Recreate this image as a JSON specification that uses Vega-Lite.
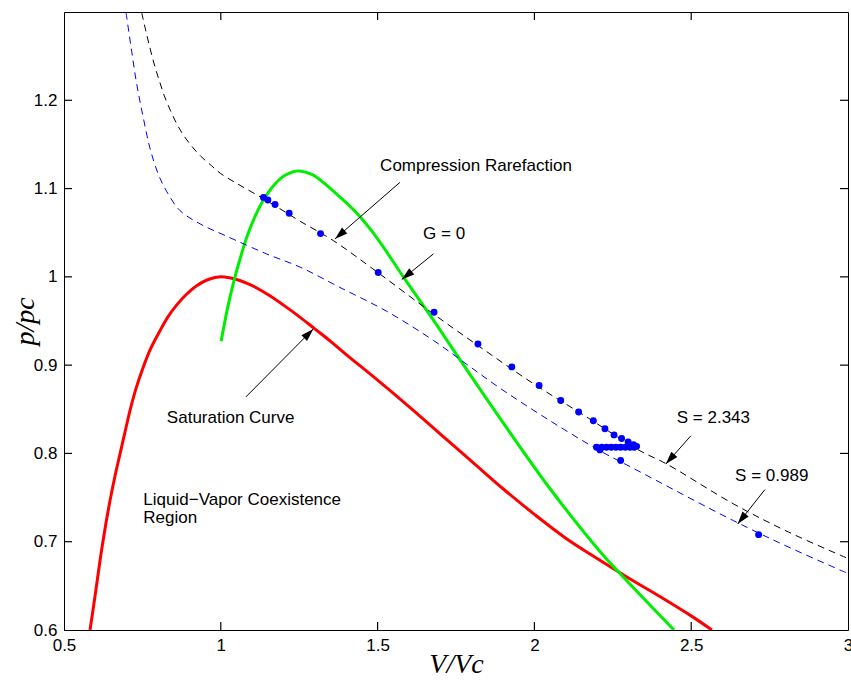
{
  "$schema": "https://vega.github.io/schema/vega-lite/v6.json",
  "width": 784,
  "height": 618,
  "autosize": {"type": "none"},
  "padding": {"left": 64, "top": 12, "right": 3, "bottom": 54},
  "background": "white",
  "config": {
    "view": {"stroke": "black", "strokeWidth": 1},
    "axis": {"grid": false, "domainColor": "black", "tickColor": "black", "labelColor": "black", "titleColor": "black"}
  },
  "datasets": {
    "sat": [
      {"V": 0.583, "p": 0.600}, {"V": 0.600, "p": 0.641}, {"V": 0.615, "p": 0.679}, {"V": 0.630, "p": 0.713},
      {"V": 0.647, "p": 0.747}, {"V": 0.663, "p": 0.775}, {"V": 0.679, "p": 0.800}, {"V": 0.695, "p": 0.825},
      {"V": 0.710, "p": 0.848}, {"V": 0.730, "p": 0.874}, {"V": 0.753, "p": 0.898}, {"V": 0.778, "p": 0.920},
      {"V": 0.806, "p": 0.939}, {"V": 0.832, "p": 0.955}, {"V": 0.859, "p": 0.968}, {"V": 0.890, "p": 0.980},
      {"V": 0.923, "p": 0.990}, {"V": 0.960, "p": 0.997}, {"V": 1.000, "p": 1.000}, {"V": 1.050, "p": 0.997},
      {"V": 1.100, "p": 0.990}, {"V": 1.150, "p": 0.980}, {"V": 1.200, "p": 0.968}, {"V": 1.250, "p": 0.955},
      {"V": 1.300, "p": 0.941}, {"V": 1.350, "p": 0.927}, {"V": 1.400, "p": 0.912}, {"V": 1.500, "p": 0.883},
      {"V": 1.600, "p": 0.853}, {"V": 1.700, "p": 0.822}, {"V": 1.800, "p": 0.791}, {"V": 1.900, "p": 0.760},
      {"V": 2.000, "p": 0.731}, {"V": 2.100, "p": 0.704}, {"V": 2.200, "p": 0.681}, {"V": 2.300, "p": 0.659},
      {"V": 2.400, "p": 0.638}, {"V": 2.500, "p": 0.616}, {"V": 2.566, "p": 0.600}
    ],
    "g0": [
      {"V": 1.001, "p": 0.927}, {"V": 1.020, "p": 0.962}, {"V": 1.040, "p": 0.993}, {"V": 1.061, "p": 1.020},
      {"V": 1.085, "p": 1.047}, {"V": 1.110, "p": 1.069}, {"V": 1.136, "p": 1.087}, {"V": 1.170, "p": 1.104},
      {"V": 1.205, "p": 1.115}, {"V": 1.245, "p": 1.120}, {"V": 1.290, "p": 1.116}, {"V": 1.330, "p": 1.106},
      {"V": 1.359, "p": 1.097}, {"V": 1.400, "p": 1.084}, {"V": 1.444, "p": 1.068}, {"V": 1.500, "p": 1.043},
      {"V": 1.582, "p": 1.000}, {"V": 1.678, "p": 0.951}, {"V": 1.763, "p": 0.906}, {"V": 1.890, "p": 0.840},
      {"V": 2.050, "p": 0.760}, {"V": 2.209, "p": 0.689}, {"V": 2.273, "p": 0.664}, {"V": 2.353, "p": 0.634},
      {"V": 2.445, "p": 0.600}
    ],
    "s2343": [
      {"V": 0.748, "p": 1.299}, {"V": 0.760, "p": 1.280}, {"V": 0.775, "p": 1.258}, {"V": 0.790, "p": 1.238},
      {"V": 0.805, "p": 1.221}, {"V": 0.820, "p": 1.205}, {"V": 0.840, "p": 1.188}, {"V": 0.860, "p": 1.173},
      {"V": 0.880, "p": 1.161}, {"V": 0.905, "p": 1.149}, {"V": 0.935, "p": 1.137}, {"V": 0.970, "p": 1.126},
      {"V": 1.000, "p": 1.117}, {"V": 1.050, "p": 1.106}, {"V": 1.114, "p": 1.093}, {"V": 1.180, "p": 1.079},
      {"V": 1.253, "p": 1.063}, {"V": 1.359, "p": 1.041}, {"V": 1.508, "p": 1.003}, {"V": 1.678, "p": 0.958},
      {"V": 1.837, "p": 0.918}, {"V": 1.997, "p": 0.879}, {"V": 2.150, "p": 0.845}, {"V": 2.337, "p": 0.803},
      {"V": 2.422, "p": 0.788}, {"V": 2.634, "p": 0.743}, {"V": 2.810, "p": 0.711}, {"V": 3.000, "p": 0.681}
    ],
    "s0989": [
      {"V": 0.698, "p": 1.299}, {"V": 0.716, "p": 1.255}, {"V": 0.732, "p": 1.218}, {"V": 0.753, "p": 1.180},
      {"V": 0.774, "p": 1.146}, {"V": 0.801, "p": 1.116}, {"V": 0.827, "p": 1.097}, {"V": 0.870, "p": 1.075},
      {"V": 0.934, "p": 1.060}, {"V": 1.019, "p": 1.046}, {"V": 1.146, "p": 1.026}, {"V": 1.253, "p": 1.011},
      {"V": 1.380, "p": 0.988}, {"V": 1.529, "p": 0.961}, {"V": 1.678, "p": 0.928}, {"V": 1.784, "p": 0.901},
      {"V": 1.890, "p": 0.874}, {"V": 2.050, "p": 0.837}, {"V": 2.209, "p": 0.803}, {"V": 2.316, "p": 0.783},
      {"V": 2.634, "p": 0.724}, {"V": 2.810, "p": 0.694}, {"V": 3.000, "p": 0.664}
    ],
    "pts": [
      {"V": 1.136, "p": 1.090}, {"V": 1.150, "p": 1.087}, {"V": 1.173, "p": 1.082}, {"V": 1.218, "p": 1.072},
      {"V": 1.318, "p": 1.049}, {"V": 1.502, "p": 1.005}, {"V": 1.680, "p": 0.960}, {"V": 1.820, "p": 0.924},
      {"V": 1.928, "p": 0.898}, {"V": 2.015, "p": 0.877}, {"V": 2.084, "p": 0.860}, {"V": 2.141, "p": 0.847},
      {"V": 2.188, "p": 0.837}, {"V": 2.225, "p": 0.828}, {"V": 2.254, "p": 0.821}, {"V": 2.278, "p": 0.817},
      {"V": 2.299, "p": 0.813}, {"V": 2.316, "p": 0.810}, {"V": 2.326, "p": 0.808}, {"V": 2.198, "p": 0.807},
      {"V": 2.209, "p": 0.804}, {"V": 2.215, "p": 0.807}, {"V": 2.230, "p": 0.807}, {"V": 2.245, "p": 0.807},
      {"V": 2.260, "p": 0.807}, {"V": 2.275, "p": 0.807}, {"V": 2.290, "p": 0.807}, {"V": 2.305, "p": 0.807},
      {"V": 2.318, "p": 0.807}, {"V": 2.275, "p": 0.792}, {"V": 2.715, "p": 0.708}
    ],
    "xticks": [
      {"V": 1, "p": 0.6}, {"V": 1.5, "p": 0.6}, {"V": 2, "p": 0.6}, {"V": 2.5, "p": 0.6},
      {"V": 1, "p": 1.3}, {"V": 1.5, "p": 1.3}, {"V": 2, "p": 1.3}, {"V": 2.5, "p": 1.3}
    ],
    "yticks": [
      {"V": 0.5, "p": 0.7}, {"V": 0.5, "p": 0.8}, {"V": 0.5, "p": 0.9}, {"V": 0.5, "p": 1.0}, {"V": 0.5, "p": 1.1}, {"V": 0.5, "p": 1.2},
      {"V": 3, "p": 0.7}, {"V": 3, "p": 0.8}, {"V": 3, "p": 0.9}, {"V": 3, "p": 1.0}, {"V": 3, "p": 1.1}, {"V": 3, "p": 1.2}
    ],
    "arrows": [
      {"x": 1.571, "y": 1.107, "x2": 1.364, "y2": 1.043},
      {"x": 1.678, "y": 1.026, "x2": 1.577, "y2": 0.997},
      {"x": 1.080, "y": 0.864, "x2": 1.295, "y2": 0.941},
      {"x": 2.499, "y": 0.820, "x2": 2.419, "y2": 0.788},
      {"x": 2.735, "y": 0.759, "x2": 2.648, "y2": 0.720}
    ],
    "labels": [
      {"x": 1.508, "y": 1.120, "t": "Compression Rarefaction"},
      {"x": 1.645, "y": 1.043, "t": "G = 0"},
      {"x": 0.828, "y": 0.835, "t": "Saturation Curve"},
      {"x": 0.753, "y": 0.742, "t": "Liquid−Vapor Coexistence"},
      {"x": 0.753, "y": 0.721, "t": "Region"},
      {"x": 2.454, "y": 0.834, "t": "S = 2.343"},
      {"x": 2.640, "y": 0.769, "t": "S = 0.989"}
    ]
  },
  "layer": [
    {
      "data": {"name": "sat"},
      "mark": {"type": "line", "color": "#ff0000", "strokeWidth": 3, "interpolate": "catmull-rom", "clip": true},
      "encoding": {
        "x": {"field": "V", "type": "quantitative", "scale": {"domain": [0.5, 3], "nice": false, "zero": false},
          "axis": {"orient": "bottom", "values": [0.5, 1, 1.5, 2, 2.5, 3], "format": "~g", "ticks": true, "tickSize": 0,
            "labelFont": "Liberation Sans", "labelFontSize": 17, "labelPadding": 7, "labelFlush": false, "labelOverlap": false,
            "title": "V/Vc", "titleFont": "Liberation Serif", "titleFontStyle": "italic", "titleFontWeight": "normal",
            "titleFontSize": 28, "titlePadding": -3}},
        "y": {"field": "p", "type": "quantitative", "scale": {"domain": [0.6, 1.3], "nice": false, "zero": false},
          "axis": {"orient": "left", "values": [0.6, 0.7, 0.8, 0.9, 1, 1.1, 1.2], "format": "~g", "ticks": true, "tickSize": 0,
            "labelFont": "Liberation Sans", "labelFontSize": 17, "labelPadding": 7, "labelFlush": false, "labelOverlap": false,
            "title": "p/pc", "titleFont": "Liberation Serif", "titleFontStyle": "italic", "titleFontWeight": "normal",
            "titleFontSize": 28, "titlePadding": -6}}
      }
    },
    {
      "data": {"name": "xticks"},
      "transform": [{"calculate": "datum.p < 0.95 ? datum.p + 0.009 : datum.p - 0.009", "as": "pEnd"}],
      "mark": {"type": "rule", "color": "black", "strokeWidth": 1.2},
      "encoding": {
        "x": {"field": "V", "type": "quantitative"},
        "y": {"field": "p", "type": "quantitative"},
        "y2": {"field": "pEnd"}
      }
    },
    {
      "data": {"name": "yticks"},
      "transform": [{"calculate": "datum.V < 1.75 ? datum.V + 0.0255 : datum.V - 0.0255", "as": "VEnd"}],
      "mark": {"type": "rule", "color": "black", "strokeWidth": 1.2},
      "encoding": {
        "x": {"field": "V", "type": "quantitative"},
        "x2": {"field": "VEnd"},
        "y": {"field": "p", "type": "quantitative"}
      }
    },
    {
      "data": {"name": "g0"},
      "mark": {"type": "line", "color": "#00ee00", "strokeWidth": 3, "interpolate": "catmull-rom", "clip": true},
      "encoding": {
        "x": {"field": "V", "type": "quantitative"},
        "y": {"field": "p", "type": "quantitative"}
      }
    },
    {
      "data": {"name": "s2343"},
      "mark": {"type": "line", "color": "black", "strokeWidth": 1, "strokeDash": [7, 5], "interpolate": "catmull-rom", "clip": true},
      "encoding": {
        "x": {"field": "V", "type": "quantitative"},
        "y": {"field": "p", "type": "quantitative"}
      }
    },
    {
      "data": {"name": "s0989"},
      "mark": {"type": "line", "color": "#0000ff", "strokeWidth": 1, "strokeDash": [7, 5], "interpolate": "catmull-rom", "clip": true},
      "encoding": {
        "x": {"field": "V", "type": "quantitative"},
        "y": {"field": "p", "type": "quantitative"}
      }
    },
    {
      "data": {"name": "pts"},
      "mark": {"type": "point", "filled": true, "color": "#0000ff", "opacity": 1, "size": 48, "strokeWidth": 0},
      "encoding": {
        "x": {"field": "V", "type": "quantitative"},
        "y": {"field": "p", "type": "quantitative"}
      }
    },
    {
      "data": {"name": "arrows"},
      "mark": {"type": "rule", "color": "black", "strokeWidth": 1},
      "encoding": {
        "x": {"field": "x", "type": "quantitative"},
        "y": {"field": "y", "type": "quantitative"},
        "x2": {"field": "x2"},
        "y2": {"field": "y2"}
      }
    },
    {
      "data": {"name": "arrows"},
      "transform": [{"calculate": "atan2((datum.x2 - datum.x) * 313.6, (datum.y2 - datum.y) * 885) * 180 / PI", "as": "ang"}],
      "mark": {"type": "point", "filled": true, "color": "black", "opacity": 1, "size": 150, "strokeWidth": 0,
        "shape": "M0,0L-0.65,2.1L0.65,2.1Z"},
      "encoding": {
        "x": {"field": "x2", "type": "quantitative"},
        "y": {"field": "y2", "type": "quantitative"},
        "angle": {"field": "ang", "type": "quantitative", "scale": null}
      }
    },
    {
      "data": {"name": "labels"},
      "mark": {"type": "text", "align": "left", "baseline": "alphabetic", "font": "Liberation Sans", "fontSize": 17, "color": "black"},
      "encoding": {
        "x": {"field": "x", "type": "quantitative"},
        "y": {"field": "y", "type": "quantitative"},
        "text": {"field": "t"}
      }
    }
  ]
}
